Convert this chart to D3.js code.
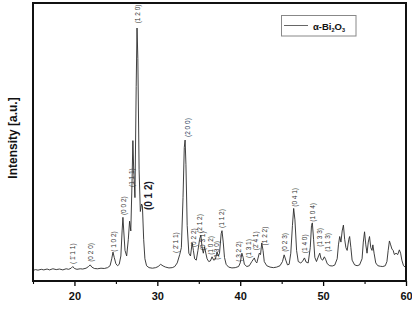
<!DOCTYPE html>
<html><head><meta charset="utf-8">
<script src="https://cdn.jsdelivr.net/npm/d3@7"></script>
<style>html,body{margin:0;padding:0;background:#fff;}svg{display:block;}</style>
</head><body>
<svg id="c" width="412" height="312"></svg>
<script>
const twoTheta = [15.0,15.3,15.6,16.0,16.3,16.7,17.0,17.4,17.8,18.2,18.6,19.0,19.3,19.6,19.8,20.0,20.3,20.7,21.0,21.4,21.7,21.9,22.1,22.4,22.8,23.2,23.6,24.0,24.3,24.5,24.65,24.8,25.0,25.2,25.4,25.6,25.75,25.85,25.95,26.1,26.3,26.5,26.65,26.8,26.95,27.05,27.15,27.3,27.45,27.55,27.65,27.8,27.95,28.1,28.2,28.35,28.5,28.7,29.0,29.4,29.8,30.1,30.4,30.7,31.0,31.4,31.8,32.1,32.4,32.7,32.9,33.1,33.25,33.35,33.45,33.6,33.8,34.0,34.2,34.35,34.5,34.7,34.9,35.1,35.25,35.4,35.55,35.7,35.85,36.0,36.2,36.4,36.6,36.8,37.0,37.2,37.35,37.5,37.7,37.8,37.95,38.1,38.3,38.6,39.0,39.4,39.8,40.0,40.2,40.35,40.5,40.8,41.1,41.4,41.7,41.85,42.0,42.3,42.45,42.6,42.75,42.9,43.2,43.6,44.0,44.4,44.8,45.1,45.3,45.5,45.7,45.9,46.1,46.3,46.45,46.6,46.8,47.0,47.3,47.5,47.75,47.95,48.2,48.45,48.6,48.7,48.85,49.0,49.2,49.45,49.6,49.75,49.95,50.15,50.3,50.5,50.8,51.1,51.4,51.7,51.85,52.0,52.15,52.3,52.45,52.6,52.75,52.9,53.1,53.2,53.35,53.5,53.8,54.1,54.4,54.7,54.85,55.0,55.15,55.3,55.45,55.6,55.75,55.9,56.0,56.15,56.35,56.6,56.9,57.2,57.5,57.7,57.85,58.0,58.15,58.3,58.45,58.6,58.8,59.0,59.2,59.35,59.5,59.7,60.0];
const intensity = [38,41,39,42,40,43,40,44,41,43,40,44,42,46,52,45,42,44,43,46,52,58,50,45,44,46,45,48,55,80,104,85,62,55,60,90,180,229,180,110,90,150,215,180,360,505,400,300,700,910,800,400,250,277,270,150,80,55,48,46,48,52,60,54,50,47,48,52,65,95,120,300,480,507,420,200,100,90,137,110,80,75,110,150,165,120,100,123,100,80,70,72,87,75,78,105,90,100,170,181,140,85,60,50,47,48,52,65,100,85,60,52,55,70,83,70,65,100,95,137,110,70,55,50,48,50,55,70,94,75,58,60,100,200,261,220,110,70,65,70,83,68,65,120,200,209,150,85,70,90,100,80,75,87,78,62,55,54,57,80,130,160,140,180,201,150,120,110,150,160,120,75,58,55,58,80,140,177,130,100,140,160,120,110,130,100,65,55,53,52,55,70,110,144,130,115,110,95,100,95,112,100,75,55,48];

// peak annotations (Miller indices) and their anchor in data coordinates
const peakLabels = ["( 1\u0304 1 1)","(0 2 0)","( 1 0 2)","(0 0 2)","(1 1 1)","(1 2 0)","( 2\u0304 1 1)","(2 0 0)","(0 2 2)","(2 1 2)","(0 3 1)","(1 0 2)","(1 3 0)","(1 1 2)","( 3 2 2)","(1 3 1)","(2\u0304 4 1)","(1 2 2)","(0 2 3)","(0 4 1)","(1 4 0)","(1 0 4)","(1 3 3)","(1 1 3)"];
const labelTheta = [19.76,21.96,24.73,25.94,26.87,27.63,32.25,33.65,34.34,35.1,35.48,36.39,37.19,37.71,39.8,41.08,41.89,43.01,45.42,46.63,47.83,48.76,49.64,50.57];
const labelBase = [61,69,105,237,338,927,101,518,122,173,111,94,76,191,69,83,111,128,105,267,100,213,123,105];
// large annotation
const bigLabel = "(0 1 2)";
const bigTheta = 28.98;
const bigBase = 255;

const xTicks = [20,30,40,50,60];
const xMinor = [15,25,35,45,55];
const legendText = ["\u03b1-Bi","2","O","3"];

const svg = d3.select("#c");
const x = d3.scaleLinear().domain([15,60]).range([33,406]);
const y = d3.scaleLinear().domain([0,1000]).range([281,3]);

// data line
const pts = twoTheta.map((t,i)=>[t,intensity[i]]);
svg.append("path").datum(pts)
  .attr("fill","none").attr("stroke","#2a2a2a").attr("stroke-width",0.9)
  .attr("stroke-linejoin","round")
  .attr("d", d3.line().x(d=>x(d[0])).y(d=>y(d[1])));

// axes
const gx = svg.append("g").attr("transform","translate(0,281)")
  .call(d3.axisBottom(x).tickValues(xTicks).tickSize(5).tickPadding(6).tickFormat(d3.format("d")));
gx.select(".domain").remove();
gx.selectAll("line").attr("stroke","#000").attr("stroke-width",1.3);
gx.selectAll("text").attr("font-family","Liberation Sans, Arial, sans-serif")
  .attr("font-size",11).attr("font-weight","bold").attr("fill","#111");
const gm = svg.append("g").attr("transform","translate(0,281)")
  .call(d3.axisBottom(x).tickValues(xMinor).tickSize(3).tickFormat(""));
gm.select(".domain").remove();
gm.selectAll("line").attr("stroke","#000").attr("stroke-width",1.1);

// frame
svg.append("rect").attr("x",x(15)).attr("y",y(1000)).attr("width",x(60)-x(15)).attr("height",y(0)-y(1000))
  .attr("fill","none").attr("stroke","#111").attr("stroke-width",2);

// y title
svg.append("text").attr("transform","translate(17,138) rotate(-90)")
  .attr("text-anchor","middle").attr("font-family","Liberation Sans, Arial, sans-serif")
  .attr("font-size",12).attr("font-weight","bold").attr("fill","#111")
  .text("Intensity [a.u.]");

// peak labels
peakLabels.forEach((s,i)=>{
  svg.append("text")
    .attr("transform",`translate(${x(labelTheta[i])+2.3},${y(labelBase[i])}) rotate(-90)`)
    .attr("font-family","Liberation Sans, Arial, sans-serif").attr("font-size",6.5)
    .attr("fill", s==="(2 0 0)" ? "#223355" : "#333")
    .text(s);
});
svg.append("text")
  .attr("transform",`translate(${x(bigTheta)+3.6},${y(bigBase)}) rotate(-90)`)
  .attr("font-family","Liberation Sans, Arial, sans-serif").attr("font-size",10)
  .attr("font-weight","bold").attr("fill","#1a1a2a").text(bigLabel);

// legend
const lg = svg.append("g");
lg.append("rect").attr("x",281.5).attr("y",15.5).attr("width",74.5).attr("height",20.5)
  .attr("fill","#fff").attr("stroke","#888").attr("stroke-width",1);
lg.append("line").attr("x1",284).attr("x2",308).attr("y1",25.5).attr("y2",25.5)
  .attr("stroke","#555").attr("stroke-width",0.9);
const lt = lg.append("text").attr("x",313).attr("y",29.5)
  .attr("font-family","Liberation Sans, Arial, sans-serif").attr("font-size",9.5).attr("font-weight","bold").attr("fill","#111");
lt.append("tspan").text(legendText[0]);
lt.append("tspan").attr("dy",2.5).attr("font-size",5.5).text(legendText[1]);
lt.append("tspan").attr("dy",-2.5).text(legendText[2]);
lt.append("tspan").attr("dy",2.5).attr("font-size",5.5).text(legendText[3]);
</script>
</body></html>
